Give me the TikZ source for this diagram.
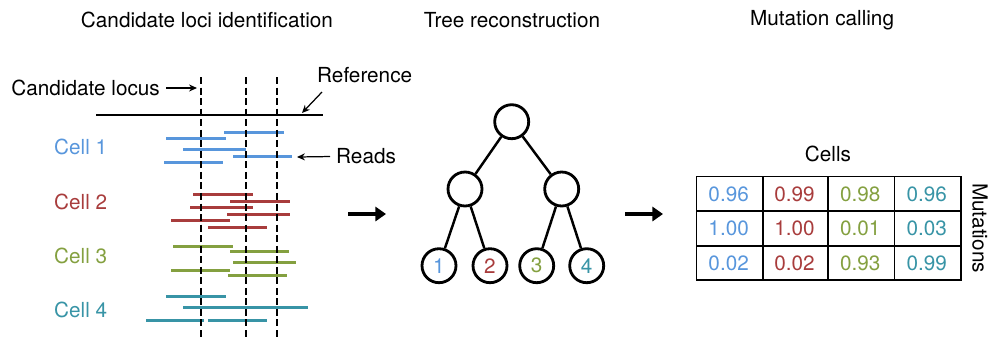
\documentclass[tikz,border=0pt]{standalone}
\usepackage{fontspec}
\setmainfont{TeX Gyre Heros}
\usetikzlibrary{arrows.meta, positioning}

\definecolor{cellblue}{RGB}{88,150,220}
\definecolor{cellred}{RGB}{168,60,60}
\definecolor{cellgreen}{RGB}{132,160,64}
\definecolor{cellteal}{RGB}{56,148,166}

\tikzstyle{readline} = [line width=1.7pt]
\tikzstyle{locus} = [line width=1.5pt, dash pattern=on 4pt off 2pt]
\tikzstyle{pointer} = [line width=0.7pt, -{Stealth[length=4.5pt,width=4pt]}]
\tikzstyle{bigarrow} = [line width=2pt, -{Triangle[length=6pt,width=8pt]}]
\tikzstyle{treenode} = [draw, circle, line width=1.6pt, minimum size=0.68cm, inner sep=0pt]
\tikzstyle{treeedge} = [line width=1.4pt]
\tikzstyle{cellbox} = [draw, line width=0.9pt, minimum width=1.322cm, minimum height=0.688cm, inner sep=0pt]

\begin{document}
\begin{tikzpicture}[x=0.02cm, y=-0.02cm, font=\fontsize{11.8}{14}\selectfont]
    \useasboundingbox (0,0) rectangle (989,339);

    % Panel titles
    \node (t1) at (207,20) {Candidate loci identification};
    \node (t2) at (512,20) {Tree reconstruction};
    \node (t3) at (822,20) {Mutation calling};

    % Reads of each cell (x from, x to, y, colour)
    \foreach \a/\b/\y/\col in {224/284/132.7/cellblue, 166/226/138.3/cellblue,
        183/246/149.3/cellblue, 233/292/156.7/cellblue, 164/223/162.3/cellblue,
        193/253/194.3/cellred, 230/290/201/cellred, 190/253/207.7/cellred,
        227/290/214.3/cellred, 171/230/220.7/cellred, 208/267/227.3/cellred,
        173/233/246/cellgreen, 230/289/251/cellgreen, 233/296/262/cellgreen,
        171/230/270/cellgreen, 228/287/275/cellgreen,
        166/226/296.7/cellteal, 183/308/307.3/cellteal,
        146/204/320/cellteal, 208/267/320/cellteal}
        \draw[readline, \col] (\a,\y) -- (\b,\y);

    % Reference and candidate loci
    \draw[line width=1.6pt] (96,115) -- (323,115);
    \foreach \x in {201,246,277}
        \draw[locus] (\x,77) -- (\x,339);

    % Cell labels
    \node[anchor=west, text=cellblue] (cell1) at (48,147) {Cell 1};
    \node[anchor=west, text=cellred] (cell2) at (48,202) {Cell 2};
    \node[anchor=west, text=cellgreen] (cell3) at (48,256) {Cell 3};
    \node[anchor=west, text=cellteal] (cell4) at (48,310) {Cell 4};

    % Annotations
    \node[anchor=east] (locuslabel) at (166,88) {Candidate locus};
    \coordinate (locuspt) at (197,88);
    \draw[pointer] (locuslabel) -- (locuspt);
    \node[anchor=west] (reflabel) at (311,75) {Reference};
    \coordinate (refpt) at (302,113);
    \draw[pointer] (322,92) -- (refpt);
    \node[anchor=west] (readlabel) at (330,156) {Reads};
    \coordinate (readpt) at (297,157);
    \draw[pointer] (readlabel) -- (readpt);

    % Arrows between panels
    \coordinate (a1) at (348,214);
    \coordinate (b1) at (386,214);
    \draw[bigarrow] (a1) -- (b1);
    \coordinate (a2) at (625,214);
    \coordinate (b2) at (663,214);
    \draw[bigarrow] (a2) -- (b2);

    % Tree nodes
    \node[treenode] (root) at (511.7,121.7) {};
    \node[treenode] (left) at (465,189) {};
    \node[treenode] (right) at (561.7,189) {};
    \node[treenode, text=cellblue] (1) at (439,265.7) {1};
    \node[treenode, text=cellred] (2) at (490,265.7) {2};
    \node[treenode, text=cellgreen] (3) at (536.7,265.7) {3};
    \node[treenode, text=cellteal] (4) at (586.7,265.7) {4};

    % Tree edges
    \draw[treeedge] (root) -- (left);
    \draw[treeedge] (root) -- (right);
    \draw[treeedge] (left) -- (1);
    \draw[treeedge] (left) -- (2);
    \draw[treeedge] (right) -- (3);
    \draw[treeedge] (right) -- (4);

    % Mutation matrix
    \foreach \r/\y in {1/193.8, 2/228.5, 3/263}
        \foreach \c/\x in {1/729.7, 2/795.5, 3/861.3, 4/927.7}
            \node[cellbox] (m-\r-\c) at (\x,\y) {};
    \foreach \r/\va/\vb/\vc/\vd in {1/0.96/0.99/0.98/0.96, 2/1.00/1.00/0.01/0.03, 3/0.02/0.02/0.93/0.99} {
        \node[anchor=east, text=cellblue] at ([xshift=-0.17cm]m-\r-1.east) {\va};
        \node[anchor=east, text=cellred] at ([xshift=-0.17cm]m-\r-2.east) {\vb};
        \node[anchor=east, text=cellgreen] at ([xshift=-0.17cm]m-\r-3.east) {\vc};
        \node[anchor=east, text=cellteal] at ([xshift=-0.17cm]m-\r-4.east) {\vd};
    }
    \node (cells) at (828,154) {Cells};
    \node[rotate=-90] (mutations) at (980,228) {Mutations};
\end{tikzpicture}
\end{document}
